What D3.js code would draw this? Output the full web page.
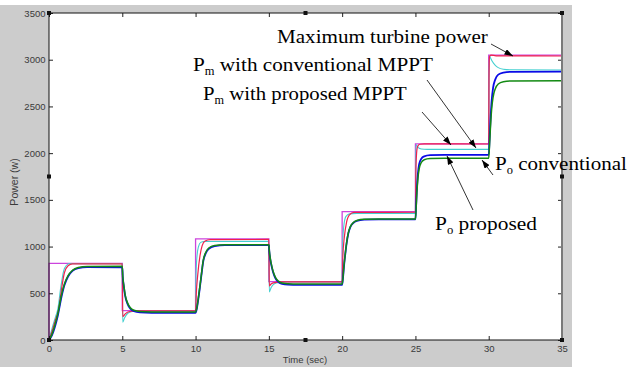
<!DOCTYPE html>
<html>
<head>
<meta charset="utf-8">
<script src="https://cdn.jsdelivr.net/npm/d3@7"></script>
<style>
  html, body { margin: 0; padding: 0; background: #ffffff; }
  svg { display: block; }
  .tick text { font-family: "Liberation Sans", Arial, sans-serif; font-size: 9.5px; fill: #3a3a3a; }
  .tick line { stroke: #222; stroke-width: 1; }
</style>
</head>
<body>
<svg id="chart" width="628" height="367"></svg>
<script>
// Axis ticks
const timeTicks = [0, 5, 10, 15, 20, 25, 30, 35];
const powerTicks = [0, 500, 1000, 1500, 2000, 2500, 3000, 3500];

// Maximum turbine power: step levels starting at each time
const maxPowerTimes = [0, 0, 5, 10, 15, 20, 25, 30, 35];
const maxPowerLevels = [0, 820, 315, 1082, 625, 1375, 2100, 3050, 3050];

// Mechanical power with conventional MPPT [time s, power W]
const pmConventional = [
  [0, 0], [0.2, 90], [0.45, 220], [0.65, 320], [0.85, 540], [1.05, 720], [1.3, 795], [1.6, 815], [5, 815],
  [5.03, 250], [5.2, 280], [5.5, 305], [6, 312], [10, 312],
  [10.05, 500], [10.15, 700], [10.3, 900], [10.45, 1010], [10.65, 1060], [11, 1075], [15, 1076],
  [15.03, 580], [15.15, 600], [15.4, 615], [15.8, 622], [20, 622],
  [20.05, 900], [20.15, 1100], [20.3, 1260], [20.5, 1340], [20.8, 1365], [25, 1368],
  [25.03, 1800], [25.08, 2000], [25.15, 2070], [25.3, 2095], [25.6, 2100], [30, 2098],
  [30.02, 2800], [30.05, 3030], [30.15, 3050], [30.5, 3042], [35, 3040]
];

// Mechanical power with proposed MPPT
const pmProposed = [
  [0, 0], [0.2, 120], [0.45, 250], [0.6, 330], [0.8, 560], [1.0, 740], [1.2, 800], [1.4, 818], [5, 818],
  [5.03, 190], [5.15, 235], [5.4, 290], [5.8, 308], [10, 310],
  [10.03, 700], [10.1, 900], [10.2, 1000], [10.35, 1045], [10.6, 1055], [15, 1056],
  [15.03, 515], [15.15, 560], [15.35, 600], [15.7, 615], [16.2, 620], [20, 620],
  [20.03, 1000], [20.1, 1200], [20.25, 1320], [20.5, 1350], [21, 1355], [25, 1355],
  [25.02, 1900], [25.05, 2090], [25.1, 2080], [25.2, 2060], [25.4, 2045], [25.8, 2040], [30, 2040],
  [30.02, 2800], [30.05, 3040], [30.12, 3020], [30.25, 2980], [30.45, 2940], [30.65, 2915], [31, 2898], [31.5, 2892], [35, 2890]
];

// Output power with conventional MPPT
const poConventional = [
  [0, 0], [0.2, 50], [0.4, 140], [0.6, 260], [0.85, 460], [1.05, 585], [1.3, 680], [1.6, 740], [2.0, 770], [2.6, 780], [5, 778],
  [5.03, 680], [5.1, 580], [5.2, 470], [5.35, 390], [5.55, 335], [5.8, 308], [6.2, 295], [7, 290], [10, 290],
  [10.08, 330], [10.18, 430], [10.3, 570], [10.42, 720], [10.52, 840], [10.7, 930], [10.9, 975], [11.3, 1005], [12, 1015], [15, 1015],
  [15.03, 950], [15.1, 860], [15.2, 780], [15.3, 720], [15.45, 660], [15.65, 620], [15.9, 600], [16.3, 592], [17, 590], [20, 590],
  [20.05, 650], [20.12, 780], [20.2, 900], [20.3, 1030], [20.42, 1140], [20.55, 1205], [20.75, 1250], [21, 1275], [21.5, 1288], [22.5, 1292], [25, 1292],
  [25.05, 1450], [25.1, 1620], [25.17, 1780], [25.25, 1880], [25.4, 1940], [25.6, 1965], [26, 1978], [27, 1982], [30, 1982],
  [30.06, 2150], [30.12, 2350], [30.2, 2560], [30.3, 2700], [30.45, 2790], [30.65, 2840], [31, 2862], [31.5, 2870], [35, 2872]
];

// Output power with proposed MPPT
const poProposed = [
  [0, 0], [0.2, 60], [0.4, 160], [0.6, 280], [0.85, 480], [1.05, 600], [1.3, 690], [1.6, 745], [2.0, 775], [2.6, 788], [5, 790],
  [5.03, 690], [5.1, 590], [5.2, 480], [5.35, 400], [5.55, 345], [5.8, 318], [6.2, 305], [7, 300], [10, 300],
  [10.08, 340], [10.18, 440], [10.3, 580], [10.42, 730], [10.52, 850], [10.7, 940], [10.9, 985], [11.3, 1012], [12, 1020], [15, 1020],
  [15.03, 960], [15.1, 870], [15.2, 790], [15.3, 730], [15.45, 670], [15.65, 630], [15.9, 610], [16.3, 602], [17, 600], [20, 600],
  [20.05, 655], [20.12, 785], [20.2, 905], [20.3, 1035], [20.42, 1145], [20.55, 1210], [20.75, 1255], [21, 1280], [21.5, 1292], [22.5, 1295], [25, 1295],
  [25.05, 1420], [25.1, 1580], [25.17, 1730], [25.25, 1830], [25.4, 1900], [25.6, 1930], [26, 1942], [27, 1946], [30, 1946],
  [30.06, 2100], [30.12, 2280], [30.2, 2470], [30.3, 2600], [30.45, 2690], [30.65, 2740], [31, 2765], [31.5, 2772], [35, 2774]
];

const svg = d3.select("#chart");

// Figure background and plot area
svg.append("rect").attr("x", 0).attr("y", 5).attr("width", 572).attr("height", 362).attr("fill", "#cccccc");

const x = d3.scaleLinear().domain([0, 35]).range([49, 562]);
const y = d3.scaleLinear().domain([0, 3500]).range([340, 13]);

svg.append("rect")
  .attr("x", x(0)).attr("y", y(3500))
  .attr("width", x(35) - x(0)).attr("height", y(0) - y(3500))
  .attr("fill", "#ffffff");

// Response traces
const smooth = d3.line().x(d => x(d[0])).y(d => y(d[1])).curve(d3.curveMonotoneX);
const plot = svg.append("g");

plot.append("path")
  .datum(maxPowerTimes.map((t, i) => [t, maxPowerLevels[i]]))
  .attr("d", d3.line().x(d => x(d[0])).y(d => y(d[1])).curve(d3.curveStepAfter))
  .attr("fill", "none").attr("stroke", "#cc44dd").attr("stroke-width", 1.3);

const traces = [
  { data: pmProposed, color: "#44d0d0", width: 1.1 },
  { data: pmConventional, color: "#f0204c", width: 1.2 },
  { data: poConventional, color: "#0a0ae6", width: 1.8 },
  { data: poProposed, color: "#138a13", width: 1.5 }
];
traces.forEach(s => {
  plot.append("path").datum(s.data).attr("d", smooth)
    .attr("fill", "none").attr("stroke", s.color).attr("stroke-width", s.width)
    .attr("stroke-linejoin", "round");
});

// Axes with inward ticks
svg.append("g").attr("transform", `translate(0,${y(0)})`)
  .call(d3.axisBottom(x).tickValues(timeTicks).tickSize(-4).tickPadding(5).tickFormat(d3.format("d")))
  .call(g => g.select(".domain").remove());
svg.append("g").attr("transform", `translate(0,${y(3500)})`)
  .call(d3.axisTop(x).tickValues(timeTicks).tickSize(-4).tickFormat(""))
  .call(g => g.select(".domain").remove());
svg.append("g").attr("transform", `translate(${x(0)},0)`)
  .call(d3.axisLeft(y).tickValues(powerTicks).tickSize(-4).tickPadding(3.5).tickFormat(d3.format("d")))
  .call(g => g.select(".domain").remove());
svg.append("g").attr("transform", `translate(${x(35)},0)`)
  .call(d3.axisRight(y).tickValues(powerTicks).tickSize(-4).tickFormat(""))
  .call(g => g.select(".domain").remove());

// Frame
const frame = svg.append("g").attr("fill", "none");
frame.append("line").attr("x1", x(0)).attr("x2", x(35)).attr("y1", y(3500)).attr("y2", y(3500)).attr("stroke", "#111");
frame.append("line").attr("x1", x(0)).attr("x2", x(35)).attr("y1", y(0)).attr("y2", y(0)).attr("stroke", "#111");
frame.append("line").attr("x1", x(0)).attr("x2", x(0)).attr("y1", y(0)).attr("y2", y(3500)).attr("stroke", "#111");
frame.append("line").attr("x1", x(35)).attr("x2", x(35)).attr("y1", y(0)).attr("y2", y(3500)).attr("stroke", "#7a7a7a").attr("stroke-width", 2);

// Axis titles
svg.append("text").attr("x", 305).attr("y", 362.5).attr("text-anchor", "middle")
  .attr("font-family", "Liberation Sans, Arial, sans-serif").attr("font-size", 9.5).attr("fill", "#3a3a3a")
  .text("Time (sec)");
svg.append("text").attr("transform", "translate(18,182) rotate(-90)").attr("text-anchor", "middle")
  .attr("font-family", "Liberation Sans, Arial, sans-serif").attr("font-size", 10.5).attr("fill", "#3a3a3a")
  .text("Power (w)");

// Selection handles at the axes corners and edge midpoints
const xm = (x(0) + x(35)) / 2, ym = (y(0) + y(3500)) / 2;
[[x(0), y(3500)], [xm, y(3500)], [x(35), y(3500)], [x(0), ym], [x(35), ym], [x(0), y(0)], [xm, y(0)], [x(35), y(0)]]
  .forEach(([hx, hy]) => {
    svg.append("rect").attr("x", hx - 2).attr("y", hy - 2).attr("width", 4).attr("height", 4).attr("fill", "#111");
  });

// Annotations
const defs = svg.append("defs");
defs.append("marker").attr("id", "head").attr("viewBox", "0 0 10 7")
  .attr("refX", 10).attr("refY", 3.5).attr("markerUnits", "userSpaceOnUse")
  .attr("markerWidth", 9).attr("markerHeight", 6).attr("orient", "auto")
  .append("path").attr("d", "M0,0 L10,3.5 L0,7 Z").attr("fill", "#000");

const arrows = [
  [491, 44, 513, 56],
  [427, 80, 476, 148],
  [422, 112, 451, 145],
  [493, 175, 482, 160],
  [473, 210, 447, 156]
];
arrows.forEach(([x1, y1, x2, y2]) => {
  svg.append("line").attr("x1", x1).attr("y1", y1).attr("x2", x2).attr("y2", y2)
    .attr("stroke", "#000").attr("stroke-width", 0.8).attr("marker-end", "url(#head)");
});

const notes = [
  { parts: [["Maximum turbine power", false]], x: 277, y: 43, w: 211 },
  { parts: [["P", false], ["m", true], [" with conventional MPPT", false]], x: 193, y: 71, w: 240 },
  { parts: [["P", false], ["m", true], [" with proposed MPPT", false]], x: 203, y: 100, w: 204 },
  { parts: [["P", false], ["o", true], [" conventional", false]], x: 495, y: 170, w: 132 },
  { parts: [["P", false], ["o", true], [" proposed", false]], x: 435, y: 230, w: 102 }
];
notes.forEach(n => {
  const t = svg.append("text")
    .attr("font-family", "Liberation Serif, 'Times New Roman', serif")
    .attr("font-size", 19.5).attr("fill", "#000");
  let shifted = false;
  n.parts.forEach(([s, sub]) => {
    const sp = t.append("tspan").text(s);
    if (sub) { sp.attr("font-size", 11.5).attr("dy", 4); shifted = true; }
    else if (shifted) { sp.attr("dy", -4); shifted = false; }
  });
  const len = t.node().getComputedTextLength();
  t.attr("transform", `translate(${n.x},${n.y}) scale(${n.w / len},1)`);
});
</script>
</body>
</html>
